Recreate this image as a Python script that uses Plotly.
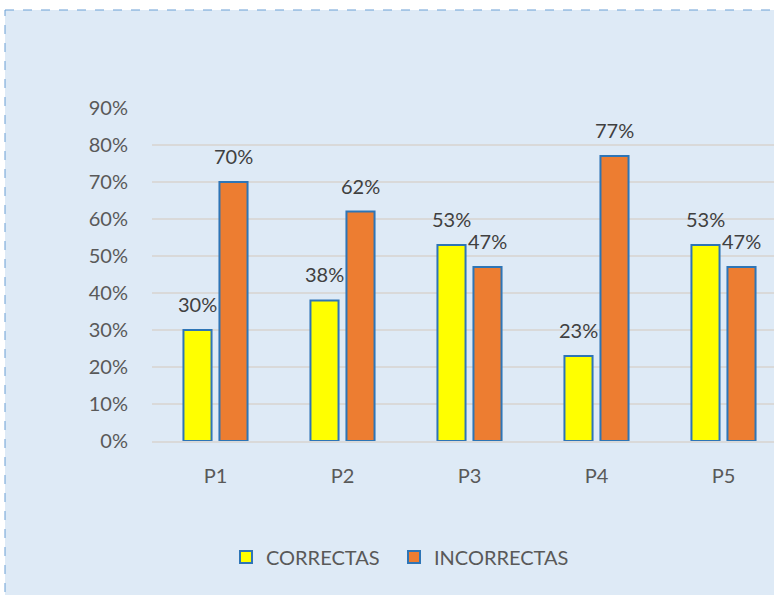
import plotly.graph_objects as go

categories = ["P1", "P2", "P3", "P4", "P5"]
correctas = [0.30, 0.38, 0.53, 0.23, 0.53]
incorrectas = [0.70, 0.62, 0.47, 0.77, 0.47]
y_ticks = [0, 0.1, 0.2, 0.3, 0.4, 0.5, 0.6, 0.7, 0.8, 0.9]
y_tick_labels = ["0%", "10%", "20%", "30%", "40%", "50%", "60%", "70%", "80%", "90%"]

W, H = 774, 595
ML, MR, MT, MB = 152, 0, 108, 154
PW, PH = W - ML - MR, H - MT - MB

def px_x(p):
    return (p - ML) / PW

def px_y(p):
    return (H - MB - p) / PH

FONT = "Lato, Calibri, Carlito, sans-serif"
BLUE = "#2E75B6"
FS = 20

fig = go.Figure()
fig.add_trace(go.Bar(name="CORRECTAS", x=categories, y=correctas, legend="legend",
                     marker=dict(color="#FFFF00", line=dict(color=BLUE, width=2))))
fig.add_trace(go.Bar(name="INCORRECTAS", x=categories, y=incorrectas, legend="legend2",
                     marker=dict(color="#ED7D31", line=dict(color=BLUE, width=2))))

for series, shift in ((correctas, -18), (incorrectas, 18)):
    for cat, v in zip(categories, series):
        fig.add_annotation(x=cat, y=v, text=f"{round(v*100)}%", showarrow=False,
                           xshift=shift, yshift=12, yanchor="bottom",
                           font=dict(family=FONT, size=FS, color="#404040"))

bg = "#DEEAF6"
fig.add_shape(type="rect", xref="paper", yref="paper", layer="below",
              x0=px_x(5), x1=px_x(790), y0=px_y(610), y1=px_y(10),
              fillcolor=bg, line=dict(width=0))
fig.add_shape(type="line", xref="paper", yref="paper",
              x0=px_x(5), x1=px_x(5), y0=px_y(610), y1=px_y(10),
              line=dict(color="#6A9FD4", width=1, dash="dash"))
fig.add_shape(type="line", xref="paper", yref="paper",
              x0=px_x(5), x1=px_x(790), y0=px_y(10), y1=px_y(10),
              line=dict(color="#6A9FD4", width=1, dash="dash"))

legend_common = dict(orientation="h", yanchor="middle", xanchor="left",
                     font=dict(family=FONT, size=FS, color="#595959"),
                     bgcolor="rgba(0,0,0,0)", itemwidth=30)

fig.update_layout(
    width=W, height=H,
    margin=dict(l=ML, r=MR, t=MT, b=MB, pad=0),
    paper_bgcolor="white", plot_bgcolor="rgba(0,0,0,0)",
    barmode="group", bargap=0.433, bargroupgap=0.22,
    font=dict(family=FONT, size=FS, color="#595959"),
    showlegend=True,
    legend=dict(x=px_x(226), y=px_y(557), **legend_common),
    legend2=dict(x=px_x(394), y=px_y(557), **legend_common),
)
fig.update_xaxes(range=[-0.5, 4.5 - (787 - 774) / 127], showgrid=False, zeroline=False,
                 showline=True, linecolor="#D9D9D9", linewidth=2, ticks="", ticklabelstandoff=16,
                 tickfont=dict(family=FONT, size=FS, color="#595959"))
fig.update_yaxes(range=[0, 0.9], tickvals=y_ticks, ticktext=y_tick_labels, showgrid=True,
                 gridcolor="#D9D9D9", gridwidth=2, zeroline=False, showline=False, ticks="",
                 ticklabelstandoff=23,
                 tickfont=dict(family=FONT, size=FS, color="#595959"))

fig.write_html("out.html", config={"displayModeBar": False},
               post_script="document.body.style.margin='0';")
